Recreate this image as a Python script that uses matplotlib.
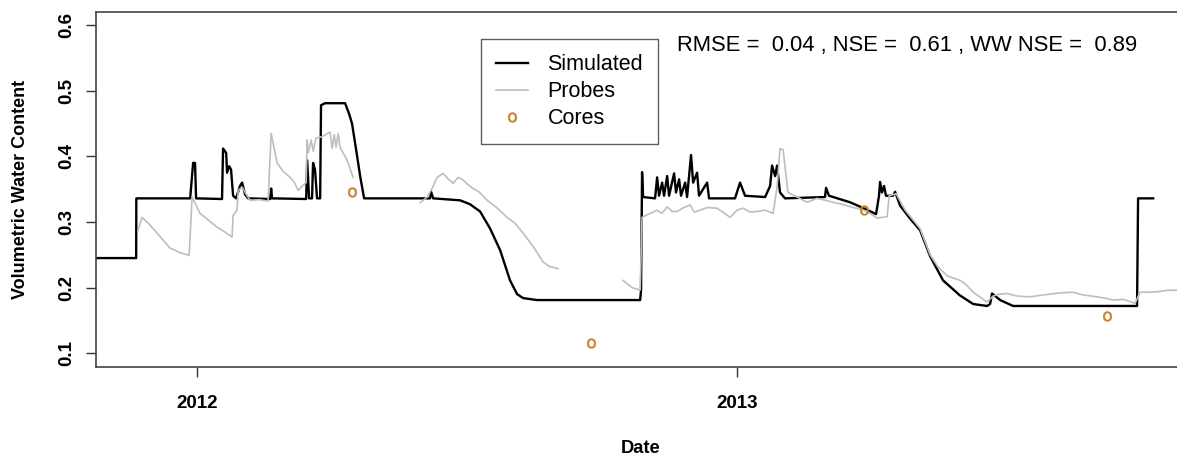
import matplotlib
matplotlib.use('Agg')
import matplotlib.pyplot as plt
import matplotlib.dates as mdates
import numpy as np

plt.rcParams['font.family'] = ['Liberation Sans', 'DejaVu Sans']

# days since 2012-01-01, volumetric water content
sim_day = [-68.5, -41.3, -41.2, -4.7, -2.7, -1.4, -0.7, 16.9, 17.6, 19.7, 20.3, 21.7, 23.0,
           24.4, 26.4, 29.1, 30.5, 32.5, 34.6, 49.5, 50.2, 50.8, 73.9, 74.6, 75.9, 77.9,
           78.6, 79.9, 81.3, 83.4, 84.0, 86.8, 100.3, 103.0, 105.0, 107.8, 110.5, 113.2,
           157.9, 158.6, 160.0, 178.3, 185.0, 191.8, 198.6, 205.4, 212.1, 216.9, 221.0,
           230.4, 300.3, 300.9, 301.6, 302.3, 310.4, 311.8, 313.1, 315.2, 316.5, 318.6,
           319.9, 323.3, 324.6, 326.7, 328.0, 330.8, 332.1, 334.8, 336.2, 338.9, 340.2,
           345.7, 347.0, 364.6, 368.0, 371.4, 385.0, 388.4, 389.7, 391.8, 393.1, 395.1,
           398.5, 425.6, 426.3, 428.3, 442.6, 452.7, 460.2, 462.2, 462.9, 464.2, 465.6,
           466.9, 471.7, 473.1, 476.5, 483.3, 490.0, 496.8, 505.6, 517.1, 526.0, 535.4,
           537.5, 538.8, 544.3, 553.1, 637.1, 637.8, 648.0]
sim_vwc = [0.245, 0.245, 0.336, 0.336, 0.390, 0.390, 0.336, 0.335, 0.412, 0.405, 0.375, 0.385,
           0.380, 0.340, 0.336, 0.355, 0.360, 0.342, 0.336, 0.335, 0.351, 0.336, 0.335, 0.394,
           0.336, 0.336, 0.390, 0.380, 0.336, 0.336, 0.478, 0.481, 0.481, 0.465, 0.450, 0.410,
           0.370, 0.336, 0.336, 0.346, 0.336, 0.333, 0.327, 0.316, 0.290, 0.257, 0.211, 0.190,
           0.184, 0.181, 0.181, 0.196, 0.376, 0.338, 0.336, 0.368, 0.340, 0.360, 0.340, 0.370,
           0.340, 0.374, 0.345, 0.365, 0.340, 0.360, 0.338, 0.402, 0.360, 0.375, 0.340, 0.360,
           0.336, 0.336, 0.360, 0.340, 0.338, 0.355, 0.386, 0.370, 0.386, 0.345, 0.336, 0.338,
           0.352, 0.340, 0.330, 0.320, 0.312, 0.340, 0.361, 0.345, 0.355, 0.340, 0.340, 0.346,
           0.325, 0.305, 0.2875, 0.248, 0.211, 0.188, 0.175, 0.172, 0.175, 0.191, 0.181, 0.172,
           0.172, 0.336, 0.336]

# probe record, nan marks gaps
probe_day = [-40.0, -37.3, -33.0, -27.1, -22.5, -18.3, -15.0, -11.5, -8.0, -5.4, -3.4, 2.0,
             6.5, 13.6, 18.0, 23.7, 24.4, 27.1, 27.8, 30.5, 33.9, 35.9, 42.0, 48.1, 50.2,
             54.2, 58.0, 63.0, 66.0, 68.5, 71.8, 73.9, 74.6, 75.2, 77.3, 78.6, 80.7, 84.7,
             90.1, 91.5, 92.9, 94.2, 95.6, 96.9, 99.0, 101.7, 105.7, 106.0,
             151.1, 155.9, 159.5, 162.7, 166.7, 170.0, 173.5, 177.0, 180.3, 184.0, 187.1,
             191.0, 196.6, 203.0, 210.1, 215.5, 221.0, 228.0, 234.5, 239.0, 244.7, 245.0,
             288.7, 294.8, 300.3, 301.6, 306.0, 311.8, 315.0, 318.6, 322.0, 325.3, 330.0,
             334.1, 337.0, 340.9, 346.0, 352.4, 357.0, 361.3, 366.0, 370.0, 375.0, 379.6,
             385.0, 390.4, 393.1, 395.1, 397.2, 400.5, 406.7, 413.4, 420.2, 426.0, 431.1,
             437.0, 444.6, 449.0, 454.1, 460.9, 467.7, 469.1, 473.8, 479.9, 490.0, 496.8,
             502.0, 508.3, 517.1, 521.0, 526.0, 531.0, 535.4, 539.5, 544.0, 549.0, 556.0,
             564.6, 571.0, 578.1, 585.0, 593.7, 600.0, 610.0, 615.0, 620.8, 628.0, 635.8,
             639.1, 645.0, 652.7, 658.0, 664.2]
probe_vwc = [0.2875, 0.307, 0.298, 0.283, 0.271, 0.260, 0.257, 0.253, 0.251, 0.249, 0.338,
             0.313, 0.305, 0.292, 0.286, 0.277, 0.310, 0.318, 0.348, 0.353, 0.340, 0.333,
             0.334, 0.332, 0.435, 0.390, 0.378, 0.368, 0.360, 0.348, 0.356, 0.360, 0.425,
             0.405, 0.425, 0.408, 0.428, 0.430, 0.437, 0.412, 0.433, 0.414, 0.435, 0.414,
             0.405, 0.394, 0.368, np.nan,
             0.329, 0.338, 0.352, 0.368, 0.374, 0.366, 0.359, 0.368, 0.364, 0.356, 0.351,
             0.346, 0.333, 0.322, 0.307, 0.298, 0.283, 0.262, 0.239, 0.232, 0.229, np.nan,
             0.211, 0.200, 0.196, 0.307, 0.312, 0.318, 0.313, 0.323, 0.316, 0.316, 0.322,
             0.326, 0.315, 0.318, 0.322, 0.321, 0.314, 0.307, 0.318, 0.321, 0.315, 0.316,
             0.318, 0.313, 0.353, 0.412, 0.410, 0.345, 0.338, 0.330, 0.336, 0.333, 0.330,
             0.327, 0.322, 0.320, 0.316, 0.306, 0.308, 0.340, 0.343, 0.318, 0.290, 0.250,
             0.232, 0.218, 0.211, 0.205, 0.193, 0.185, 0.178, 0.187, 0.190, 0.191, 0.187,
             0.186, 0.188, 0.190, 0.192, 0.193, 0.189, 0.186, 0.184, 0.181, 0.182, 0.176,
             0.193, 0.193, 0.194, 0.196, 0.196]

core_day = [105.0, 267.0, 452.0, 616.8]
core_vwc = [0.345, 0.115, 0.318, 0.156]

stats_text = "RMSE =  0.04 , NSE =  0.61 , WW NSE =  0.89"

start = np.datetime64('2012-01-01T00:00')


def to_dates(days):
    mins = (np.asarray(days) * 1440).round().astype('timedelta64[m]')
    return start + mins


fig = plt.figure(figsize=(11.77, 4.58), dpi=100)
ax = fig.add_axes([0.0816, 0.1987, 0.9257, 0.7751])

ax.plot(to_dates(sim_day), sim_vwc, color='black', lw=1.7, label='Simulated')
ax.plot(to_dates(probe_day), probe_vwc, color='#BEBEBE', lw=1.2, label='Probes')
ax.plot(to_dates(core_day), core_vwc, ls='none', marker=r'$\mathrm{o}$', ms=7, mew=0.4,
        color='#C8822A', label='Cores')

ax.set_xlim(to_dates([-68.5])[0], to_dates([670])[0])
ax.set_ylim(0.079, 0.62)

ax.xaxis.set_major_locator(mdates.YearLocator())
ax.xaxis.set_major_formatter(mdates.DateFormatter('%Y'))
ax.set_yticks([0.1, 0.2, 0.3, 0.4, 0.5, 0.6])
ax.set_yticklabels(['0.1', '0.2', '0.3', '0.4', '0.5', '0.6'], rotation=90, va='center')
ax.tick_params(axis='both', direction='out', length=7, width=1, color='#333333',
               labelsize=13.5)
ax.tick_params(axis='x', pad=13)
ax.tick_params(axis='y', pad=8)
for lbl in ax.get_xticklabels() + ax.get_yticklabels():
    lbl.set_fontweight('bold')

for s in ax.spines.values():
    s.set_color('#444444')
    s.set_linewidth(1.2)

ax.set_xlabel('Date', fontweight='bold', fontsize=13.2, labelpad=20)
ax.set_ylabel('Volumetric Water Content', fontweight='bold', fontsize=13, labelpad=21)

leg = ax.legend(loc='upper left', bbox_to_anchor=(0.353, 0.924), fontsize=15.5,
                frameon=True, fancybox=False, edgecolor='#333333', handlelength=1.5,
                handletextpad=0.9, borderpad=0.7, labelspacing=0.28, borderaxespad=0)
leg.get_frame().set_linewidth(1.0)

ax.text(0.533, 0.907, stats_text, transform=ax.transAxes, fontsize=15.8, va='center')

plt.savefig('out.png', dpi=100)
